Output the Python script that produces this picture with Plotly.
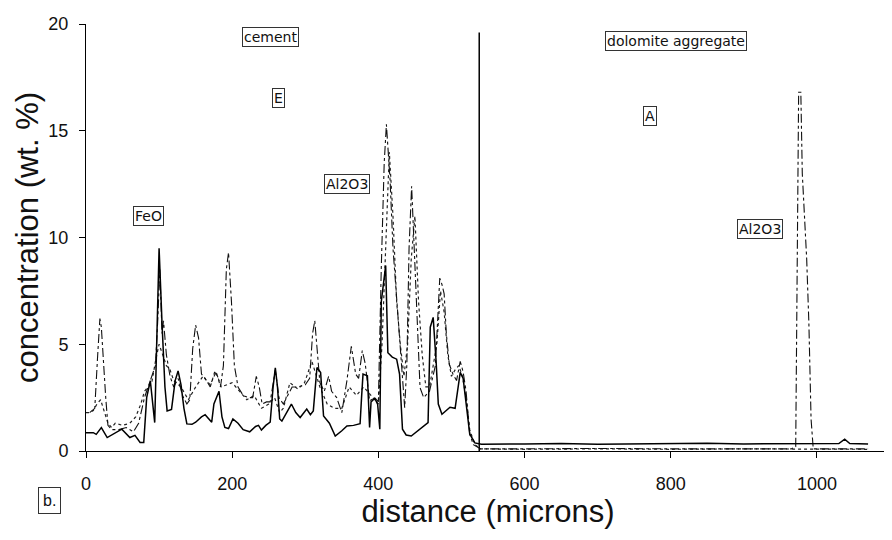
import plotly.graph_objects as go

# ---- data ----
feo_x = [0, 10, 14, 21, 29, 38, 49, 60, 67, 74, 79, 83, 88, 94, 97, 100, 104, 108, 111,
         117, 122, 126, 130, 134, 138, 145, 150, 158, 163, 168, 172, 175, 179, 182, 186,
         190, 195, 201, 208, 215, 224, 232, 236, 240, 246, 252, 256, 259, 262, 265, 268,
         275, 281, 287, 293, 302, 307, 311, 314, 316, 321, 325, 333, 341, 350, 357, 366,
         375, 377, 379, 385, 387, 388, 390, 395, 399, 402, 404, 410, 413, 419, 425, 429,
         433, 438, 445, 456, 468, 471, 475, 479, 482, 487, 493, 498, 505, 510, 512, 516,
         521, 525, 532, 541, 600, 650, 700, 750, 800, 850, 900, 950, 1000, 1030, 1038,
         1045, 1070]
feo_y = [0.86, 0.86, 0.78, 1.1, 0.63, 0.82, 1.02, 0.63, 0.73, 0.4, 0.4, 2.5, 3.29, 1.33, 5.5, 9.5, 6.0, 3.0, 1.88,
         1.95, 3.3, 3.75, 3.1, 2.0, 1.27, 1.25, 1.35, 1.6, 1.7, 1.5, 1.35, 2.2, 2.5, 2.8, 1.6,
         1.1, 1.05, 1.5, 1.3, 1.0, 0.9, 1.15, 1.2, 0.98, 1.2, 1.35, 3.0, 3.9, 3.0, 1.5, 1.4,
         1.8, 2.2, 1.8, 1.57, 1.96, 1.7, 1.88, 3.0, 3.91, 3.68, 1.64, 1.3, 0.7, 0.95, 1.17, 1.2,
         1.28, 2.5, 3.6, 3.52, 2.0, 1.1, 2.3, 2.47, 2.19, 1.02, 7.0, 8.69, 4.6, 4.4, 4.3, 3.6,
         1.02, 0.75, 0.7, 1.0, 1.33, 5.8, 6.26, 4.2, 2.2, 1.72, 1.9, 2.05, 2.0, 3.2, 3.68, 3.4,
         1.8, 0.8, 0.38, 0.32, 0.33, 0.35, 0.32, 0.34, 0.33, 0.36, 0.33, 0.34, 0.33, 0.35, 0.55,
         0.35, 0.33]

al2o3_x = [5, 12, 16, 19, 21, 24, 27, 30, 35, 45, 55, 65, 72, 80, 85, 90, 95, 98, 101, 104,
           106, 110, 115, 120, 126, 132, 138, 142, 146, 150, 154, 158, 163, 170, 176, 180,
           184, 188, 192, 195, 199, 203, 208, 215, 222, 228, 233, 237, 241, 247, 252, 259,
           264, 270, 276, 282, 290, 300, 306, 310, 313, 316, 320, 326, 332, 336, 343, 350,
           357, 363, 369, 373, 378, 382, 388, 395, 400, 404, 408, 411, 416, 420, 425, 428,
           432, 436, 439, 442, 445.5, 448, 451.5, 454.6, 457, 462, 470, 478, 482, 484, 487,
           490, 493, 497, 502, 507, 512, 516, 520, 525, 530, 540, 600, 700, 800, 900, 965,
           971, 973, 975, 978, 980, 983, 986, 989, 992, 995, 1000, 1070]
al2o3_y = [1.8, 2.0, 4.5, 6.2, 5.8, 4.0, 2.5, 1.2, 1.0, 1.0, 1.1, 0.9, 1.3, 2.5, 3.0, 3.5, 4.0, 6.0, 8.5, 5.5,
           6.1, 4.5, 3.5, 3.0, 3.4, 2.6, 2.2, 2.4, 4.8, 5.9, 5.3, 3.6, 3.4, 3.0, 3.7, 3.5,
           3.0, 4.0, 8.5, 9.3, 7.0, 4.0, 3.0, 2.6, 2.5, 2.5, 3.5, 3.0, 2.2, 2.3, 2.3, 3.8,
           2.5, 2.2, 2.6, 3.0, 3.0, 3.1, 3.4, 5.5, 6.1, 4.8, 3.2, 2.8, 3.5, 2.8, 2.5, 1.8,
           3.3, 4.9, 3.6, 3.4, 4.7, 4.1, 2.35, 2.5, 2.3, 8.6, 13.5, 15.3, 12.7, 9.5, 7.2, 5.6,
           3.6, 2.03, 4.07, 9.5, 12.4, 10.3, 8.0, 5.5, 2.97, 2.5, 2.8, 4.0, 6.6, 8.1, 7.8,
           7.36, 5.5, 4.07, 3.6, 3.3, 4.2, 3.7, 2.8, 0.78, 0.3, 0.1, 0.1, 0.12, 0.1, 0.12, 0.1,
           0.2, 8.0, 16.8, 16.8, 13.0, 11.0, 9.0, 6.0, 1.5, 0.1, 0.1, 0.1]

other_x = [0, 5, 10, 15, 20, 25, 30, 35, 40, 50, 60, 68, 75, 80, 85, 90, 95, 100, 105, 110,
           115, 120, 130, 140, 150, 160, 170, 178, 185, 200, 210, 220, 230, 240, 250, 258,
           265, 270, 279, 290, 299, 309, 320, 330, 340, 350, 360, 370, 380, 390, 400, 405,
           410, 415, 420, 425, 430, 435, 440, 445, 450, 455, 460, 465, 470, 480, 485, 490,
           495, 500, 505, 510, 515, 520, 525, 532, 540, 600, 700, 800, 900, 1000, 1070]
other_y = [1.8, 1.8, 1.9, 2.2, 2.4, 1.8, 1.3, 1.1, 1.3, 1.2, 1.3, 1.6, 2.2, 2.8, 3.0, 3.2, 4.2, 5.0, 4.5, 4.0,
           3.8, 3.3, 3.0, 2.4, 3.0, 3.5, 3.1, 3.7, 3.0, 3.2, 2.8, 2.4, 2.6, 2.0, 2.2, 2.5,
           1.8, 2.0, 3.2, 2.9, 3.2, 4.2, 3.0, 2.2, 2.0, 2.0, 3.0, 2.6, 3.0, 2.6, 2.2, 5.0,
           10.0, 14.0, 11.0, 7.0, 5.0, 3.5, 5.0, 9.0, 11.0, 7.0, 4.5, 3.0, 3.0, 5.0, 7.5, 6.5,
           4.5, 3.5, 3.8, 4.0, 3.5, 2.5, 1.0, 0.3, 0.1, 0.08, 0.1, 0.08, 0.1, 0.08, 0.08]

contact_x = 538
contact_top = 19.6

x_ticks = [0, 200, 400, 600, 800, 1000]
y_ticks = [0, 5, 10, 15, 20]

# boxed labels: (text, x, y)
labels = [
    ("cement", 253, 19.37),
    ("E", 264, 16.55),
    ("contact", 540, 20.05),
    ("dolomite aggregate", 807, 19.2),
    ("A", 772, 15.7),
    ("FeO", 86, 11.0),
    ("Al2O3", 357, 12.5),
    ("Al2O3", 922, 10.4),
]

assert len(feo_x) == len(feo_y)
assert len(al2o3_x) == len(al2o3_y)
assert len(other_x) == len(other_y)

fig = go.Figure()
fig.add_trace(go.Scatter(x=other_x, y=other_y, mode="lines", name="other oxide",
                         line=dict(color="#222", width=1.2, dash="dot")))
fig.add_trace(go.Scatter(x=al2o3_x, y=al2o3_y, mode="lines", name="Al2O3",
                         line=dict(color="#111", width=1.1, dash="dashdot")))
fig.add_trace(go.Scatter(x=feo_x, y=feo_y, mode="lines", name="FeO",
                         line=dict(color="#000", width=1.5)))

fig.add_shape(type="line", x0=contact_x, x1=contact_x, y0=0, y1=contact_top,
              xref="x", yref="y", line=dict(color="#000", width=1.5))

for text, lx, ly in labels:
    fig.add_annotation(x=lx, y=ly, xref="x", yref="y", text=text, showarrow=False,
                       xanchor="center", yanchor="middle",
                       font=dict(family="DejaVu Sans", size=14, color="#111"),
                       bordercolor="#333", borderwidth=1, borderpad=1, bgcolor="white")

fig.add_annotation(x=-0.046, y=-0.115, xref="paper", yref="paper", text="b.",
                   xanchor="center", yanchor="middle",
                   showarrow=False, font=dict(family="Liberation Sans", size=16, color="#111"),
                   bordercolor="#333", borderwidth=1, borderpad=4, bgcolor="white")

# the page body has an 8px margin, so the figure is 8px smaller and margins are shifted
fig.update_layout(
    width=884, height=532,
    margin=dict(l=78, r=2, t=16, b=89),
    paper_bgcolor="white", plot_bgcolor="white",
    showlegend=False,
    font=dict(family="Liberation Sans", color="#111"),
    xaxis=dict(range=[0, 1100], tickvals=x_ticks, ticks="outside", ticklen=6,
               tickcolor="#000", showline=True, linecolor="#000", linewidth=1,
               showgrid=False, zeroline=False, tickfont=dict(size=18),
               ticklabelstandoff=10,
               title=dict(text="distance (microns)", font=dict(size=31), standoff=4)),
    yaxis=dict(range=[0, 20], tickvals=y_ticks, ticks="outside", ticklen=6,
               tickcolor="#000", showline=True, linecolor="#000", linewidth=1,
               showgrid=False, zeroline=False, tickfont=dict(size=18),
               ticklabelstandoff=7,
               title=dict(text="concentration (wt. %)", font=dict(size=31), standoff=0)),
)

fig.write_html("out.html")
